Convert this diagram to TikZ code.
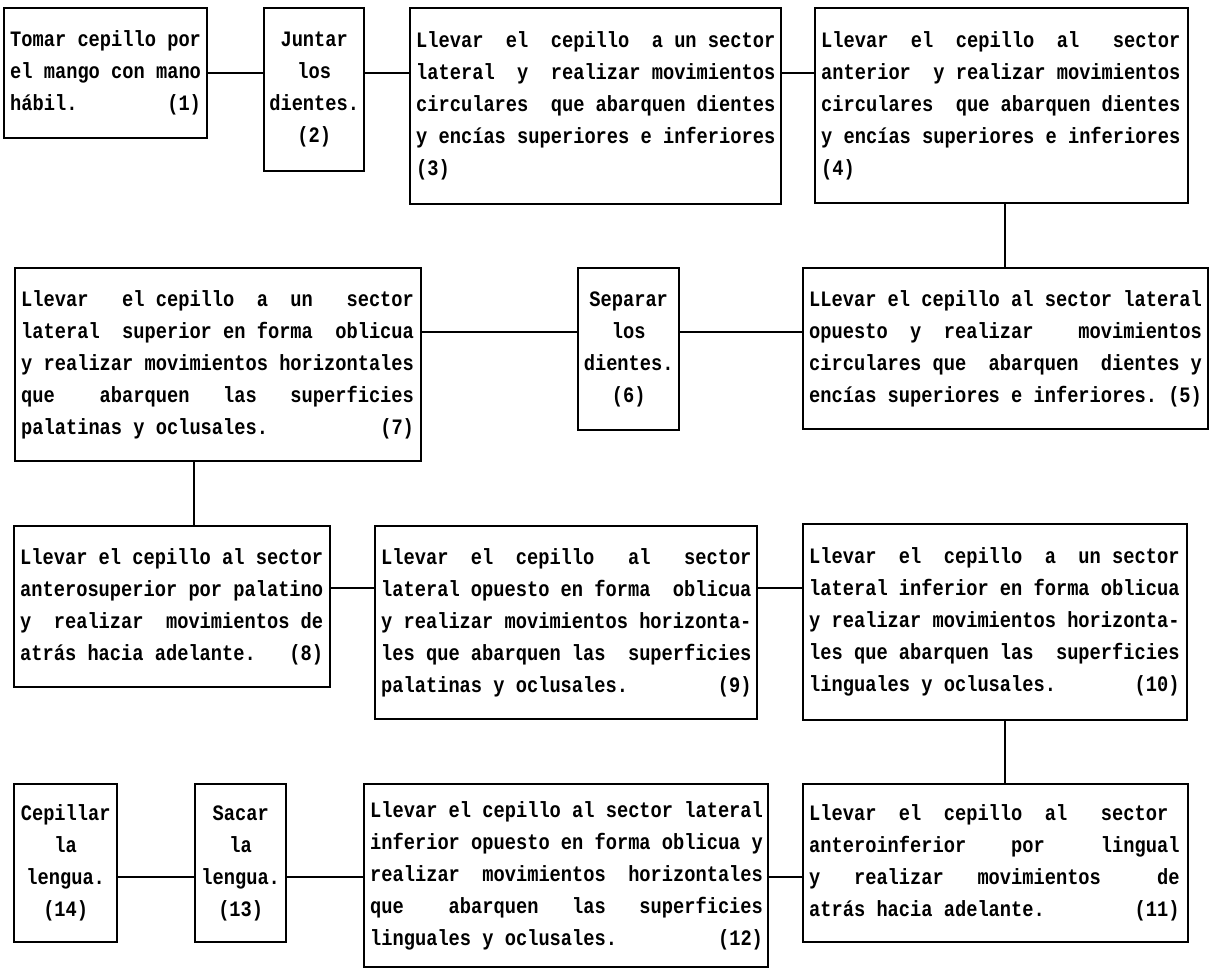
\documentclass[tikz,border=0pt]{standalone}
\usepackage{fontspec}
\newfontfamily\pfont{Liberation Mono}[FakeStretch=0.85]
\newcommand\fx{\spaceskip=\fontcharwd\font`\a\relax\xspaceskip=\spaceskip
  \hyphenpenalty=10000\relax\exhyphenpenalty=10000\relax\hbadness=10000\relax\hfuzz=20pt\relax}
\begin{document}
\begin{tikzpicture}[x=1pt,y=-1pt,
  box/.style={draw, line width=2.4pt, anchor=north west, inner xsep=6pt, inner ysep=0pt,
    font=\pfont\bfseries\fontsize{22}{32}\selectfont, align=left},
  cbox/.style={box, inner xsep=2pt, align=center},
  link/.style={line width=2.2pt}]
\useasboundingbox (0,0) rectangle (1211,968);

% row 1
\node[box, minimum width=203pt, minimum height=130pt, text width=191pt] (b1) at (3,7)
  {\fx Tomar~cepillo~por\\el~mango~con~mano\\hábil.~~~~~~~~(1)};
\node[cbox, minimum width=100pt, minimum height=163pt, text width=96pt] (b2) at (263,7)
  {\fx Juntar\\los\\dientes.\\(2)};
\node[box, minimum width=369pt, minimum height=196pt, text width=359pt] (b3) at (409,7)
  {\fx Llevar~~el~~cepillo~~a~un~sector\\lateral~~y~~realizar~movimientos\\circulares~~que~abarquen~dientes\\y~encías~superiores~e~inferiores\\(3)};
\node[box, minimum width=373pt, minimum height=195pt, text width=361pt] (b4) at (814,7)
  {\fx Llevar~~el~~cepillo~~al~~~sector\\anterior~~y~realizar~movimientos\\circulares~~que~abarquen~dientes\\y~encías~superiores~e~inferiores\\(4)};

% row 2
\node[box, minimum width=405pt, minimum height=161pt, text width=393pt] (b5) at (802,267)
  {\fx LLevar~el~cepillo~al~sector~lateral\\opuesto~~y~~realizar~~~~movimientos\\circulares~que~~abarquen~~dientes~y\\encías~superiores~e~inferiores.~(5)};
\node[cbox, minimum width=101pt, minimum height=162pt, text width=97pt] (b6) at (577,267)
  {\fx Separar\\los\\dientes.\\(6)};
\node[box, minimum width=406pt, minimum height=193pt, text width=394pt] (b7) at (14,267)
  {\fx Llevar~~~el~cepillo~~a~~un~~~sector\\lateral~~superior~en~forma~~oblicua\\y~realizar~movimientos~horizontales\\que~~~~abarquen~~~las~~~superficies\\palatinas~y~oclusales.~~~~~~~~~~(7)};

% row 3
\node[box, minimum width=316pt, minimum height=161pt, text width=304pt] (b8) at (13,525)
  {\fx Llevar~el~cepillo~al~sector\\anterosuperior~por~palatino\\y~~realizar~~movimientos~de\\atrás~hacia~adelante.~~~(8)};
\node[box, minimum width=382pt, minimum height=193pt, text width=370pt] (b9) at (374,525)
  {\fx Llevar~~el~~cepillo~~~al~~~sector\\lateral~opuesto~en~forma~~oblicua\\y~realizar~movimientos~horizonta-\\les~que~abarquen~las~~superficies\\palatinas~y~oclusales.~~~~~~~~(9)};
\node[box, minimum width=384pt, minimum height=196pt, text width=372pt] (b10) at (802,523)
  {\fx Llevar~~el~~cepillo~~a~~un~sector\\lateral~inferior~en~forma~oblicua\\y~realizar~movimientos~horizonta-\\les~que~abarquen~las~~superficies\\linguales~y~oclusales.~~~~~~~(10)};

% row 4
\node[box, minimum width=385pt, minimum height=158pt, text width=373pt] (b11) at (802,783)
  {\fx Llevar~~el~~cepillo~~al~~~sector\\anteroinferior~~~~por~~~~~lingual\\y~~~realizar~~~movimientos~~~~~de\\atrás~hacia~adelante.~~~~~~~~(11)};
\node[box, minimum width=402pt, minimum height=183pt, text width=392pt] (b12) at (363,783)
  {\fx Llevar~el~cepillo~al~sector~lateral\\inferior~opuesto~en~forma~oblicua~y\\realizar~~movimientos~~horizontales\\que~~~~abarquen~~~las~~~superficies\\linguales~y~oclusales.~~~~~~~~~(12)};
\node[cbox, minimum width=91pt, minimum height=158pt, text width=87pt] (b13) at (194,783)
  {\fx Sacar\\la\\lengua.\\(13)};
\node[cbox, minimum width=103pt, minimum height=158pt, text width=99pt] (b14) at (13,783)
  {\fx Cepillar\\la\\lengua.\\(14)};

% connector levels
\coordinate (r1) at (0,73);
\coordinate (r2) at (0,332);
\coordinate (r3) at (0,588);
\coordinate (r4) at (0,877);
\coordinate (c1) at (1005,0);
\coordinate (c2) at (194,0);

\draw[link] (b1.east |- r1) -- (b2.west |- r1);
\draw[link] (b2.east |- r1) -- (b3.west |- r1);
\draw[link] (b3.east |- r1) -- (b4.west |- r1);
\draw[link] (b4.south -| c1) -- (b5.north -| c1);
\draw[link] (b5.west |- r2) -- (b6.east |- r2);
\draw[link] (b6.west |- r2) -- (b7.east |- r2);
\draw[link] (b7.south -| c2) -- (b8.north -| c2);
\draw[link] (b8.east |- r3) -- (b9.west |- r3);
\draw[link] (b9.east |- r3) -- (b10.west |- r3);
\draw[link] (b10.south -| c1) -- (b11.north -| c1);
\draw[link] (b11.west |- r4) -- (b12.east |- r4);
\draw[link] (b12.west |- r4) -- (b13.east |- r4);
\draw[link] (b13.west |- r4) -- (b14.east |- r4);
\end{tikzpicture}
\end{document}
